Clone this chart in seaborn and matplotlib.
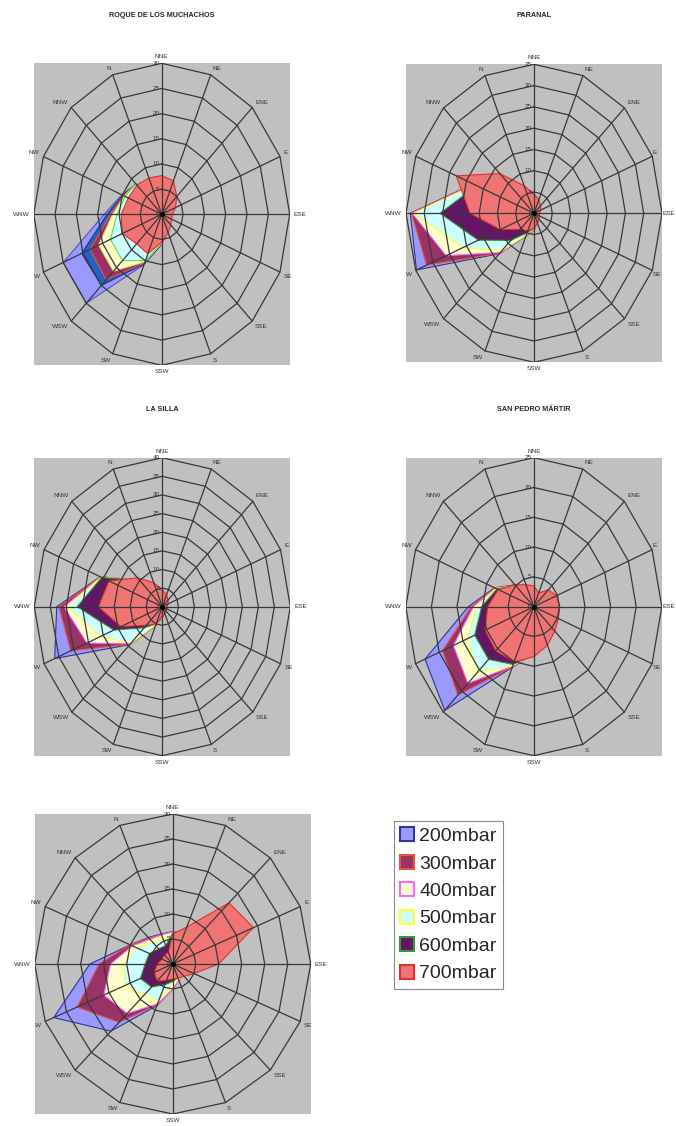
import numpy as np
import seaborn as sns
import matplotlib.pyplot as plt
from matplotlib.patches import Patch

# wind direction sectors, clockwise starting at the top of each radar
directions = ["NNE", "NE", "ENE", "E", "ESE", "SE", "SSE", "S",
              "SSW", "SW", "WSW", "W", "WNW", "NW", "NNW", "N"]
levels = ["200mbar", "300mbar", "400mbar", "500mbar", "600mbar", "700mbar"]

# frequency (%) per direction, one row per pressure level (200 -> 700)
roque = [
    [6.5, 6, 4, 3, 2, 2, 2.5, 3.5, 6.0, 10.8, 25.0, 25.0, 13.5, 10.1, 8.5, 7],
    [6.5, 6, 4, 3, 2, 2, 2.5, 3.5, 5.9, 10.6, 20.0, 20.3, 12.8, 9.9, 8.5, 7],
    [6.5, 6, 4, 3, 2, 2, 2.5, 3.5, 5.8, 10.4, 18.4, 18.2, 12.0, 9.7, 8.5, 7],
    [6.5, 6, 4, 3, 2, 2, 2.5, 3.5, 5.7, 10.2, 16.0, 16.0, 11.5, 9.5, 8.5, 7],
    [6.5, 6, 4, 3, 2, 2, 2.5, 3.5, 5.6, 10.0, 13.0, 13.0, 10.5, 9.3, 8.5, 7],
    [7.7, 7.2, 5.0, 3.5, 2.5, 2.5, 3.0, 4.0, 5.5, 8.5, 8.3, 10.0, 9.5, 8.5, 8.2, 7.8],
]
paranal = [
    [4, 3, 2, 1.5, 1.5, 1.5, 2, 2.5, 3.9, 5.8, 13.4, 34.8, 33.8, 18.0, 12, 6],
    [4, 3, 2, 1.5, 1.5, 1.5, 2, 2.5, 3.8, 5.7, 13.2, 31.8, 33.5, 17.9, 12, 6],
    [4, 3, 2, 1.5, 1.5, 1.5, 2, 2.5, 3.7, 5.6, 13.0, 26.0, 33.3, 17.7, 12, 6],
    [4, 3, 2, 1.5, 1.5, 1.5, 2, 2.5, 3.6, 5.5, 12.5, 21.0, 33.0, 17.5, 12, 6],
    [4, 3, 2, 1.5, 1.5, 1.5, 2, 2.5, 3.5, 5.0, 9.0, 16.5, 25.7, 17.0, 12, 6],
    [4.5, 3.5, 2.5, 2, 1.5, 1.5, 2, 2.5, 3.5, 4.5, 5.3, 10.0, 17.5, 23.0, 13.2, 7],
]
la_silla = [
    [4, 3, 2, 1.5, 1.5, 1.5, 1.5, 2, 2.9, 5.5, 14.4, 36.4, 33.0, 21.0, 10, 6],
    [4, 3, 2, 1.5, 1.5, 1.5, 1.5, 2, 2.8, 5.4, 14.2, 31.0, 32.3, 20.9, 10, 6],
    [4, 3, 2, 1.5, 1.5, 1.5, 1.5, 2, 2.7, 5.3, 14.0, 25.5, 30.7, 20.8, 10, 6],
    [4, 3, 2, 1.5, 1.5, 1.5, 1.5, 2, 2.6, 5.2, 13.8, 21.0, 29.7, 20.7, 10, 6],
    [4, 3, 2, 1.5, 1.5, 1.5, 1.5, 2, 2.5, 5.0, 8.0, 16.4, 26.6, 20.5, 10, 6],
    [4.5, 3.5, 2.5, 2, 1.5, 1.5, 1.5, 2, 2.5, 5.0, 7.0, 14.0, 20.0, 18.0, 11, 7],
]
san_pedro = [
    [3, 2, 3.5, 4, 4.5, 4.5, 5, 6.5, 8, 11.0, 24.6, 23.0, 12.8, 8.3, 5.2, 3.7],
    [3, 2, 3.5, 4, 4.5, 4.5, 5, 6.5, 8, 10.9, 21.0, 19.3, 12.2, 8.2, 5.1, 3.6],
    [3, 2, 3.5, 4, 4.5, 4.5, 5, 6.5, 8, 10.8, 18.2, 17.0, 11.8, 8.1, 5.0, 3.5],
    [3, 2, 3.5, 4, 4.5, 4.5, 5, 6.5, 8, 10.7, 15.5, 14.0, 11.2, 8.0, 5.0, 3.5],
    [3, 2, 3.5, 4, 4.5, 4.5, 5, 6.5, 8, 10.5, 12.5, 12.5, 10.2, 7.8, 5.0, 3.5],
    [3.5, 2.5, 4, 4.8, 5.1, 5.2, 5.8, 7, 8.4, 10.0, 10.5, 10.3, 9.0, 7.5, 5.2, 4],
]
site5 = [
    [6.5, 7, 6, 5, 4, 3.5, 3, 3.5, 5.0, 9.0, 19.0, 28.0, 18.0, 10.0, 7.5, 6.5],
    [6.4, 7, 6, 5, 4, 3.5, 3, 3.5, 5.0, 8.8, 16.5, 22.5, 16.0, 10.0, 7.3, 6.4],
    [6.4, 7, 6, 5, 4, 3.5, 3, 3.5, 5.0, 8.6, 14.0, 16.2, 13.5, 9.5, 7.0, 6.3],
    [6.2, 7, 6, 5, 4, 3.5, 3, 3.3, 3.9, 7.8, 8.8, 11.2, 10.6, 8.6, 6.0, 5.3],
    [6.2, 7, 6, 5, 4, 3.5, 3, 3.0, 3.5, 4.5, 6.5, 7.6, 6.0, 5.5, 4.3, 4.0],
    [6.0, 8, 17.3, 19, 10, 5, 3.5, 3, 3, 3.5, 4.8, 4.3, 3.3, 2.5, 2.5, 2.5],
]

# (face, edge) per level
level_colors = [("#9999FF", "#333399"), ("#993366", "#E8553A"),
                ("#FFFFCC", "#FF66FF"), ("#CCFFFF", "#FFFF33"),
                ("#661466", "#339933"), ("#F07474", "#E03030")]
roque_colors = [("#9999FF", "#5555BB"), ("#2262C8", "#1A3A8A"),
                ("#993366", "#E8553A"), ("#FFFFCC", "#DDDD66"),
                ("#CCFFFF", "#55DD55"), ("#F07474", "#E03030")]

sns.set_style("white")
plt.rcParams["font.family"] = ["Liberation Sans", "DejaVu Sans"]

W, H = 676, 1126
fig = plt.figure(figsize=(W / 100, H / 100), dpi=100)
theta = np.arange(len(directions)) * 2 * np.pi / len(directions)
grid_col = "#383838"


def radar(cx, cy, rx, ry, data, rmax, colors, title=None):
    """Draws one Excel-like filled radar centred at pixel (cx, cy)."""
    ax = fig.add_axes([(cx - rx) / W, 1 - (cy + ry) / H, 2 * rx / W, 2 * ry / H])
    ax.set_facecolor("#C0C0C0")
    for vals, (fc, ec) in zip(data, colors):
        r = np.array(vals)
        ax.fill(r * np.sin(theta), r * np.cos(theta), facecolor=fc,
                edgecolor=ec, lw=0.8, zorder=2)
    for ring in range(5, rmax + 1, 5):
        t = np.append(theta, 0)
        ax.plot(ring * np.sin(t), ring * np.cos(t), color=grid_col, lw=0.9, zorder=3)
    for t in theta:
        ax.plot([0, rmax * np.sin(t)], [0, rmax * np.cos(t)], color=grid_col,
                lw=0.9, zorder=3)
    for ring in range(0, rmax + 1, 5):
        ax.annotate(str(ring), (0, ring), xytext=(-1.5, 0), textcoords="offset points",
                    ha="right", va="center", fontsize=4.6, color="#333333", zorder=4)
    # keep the right-hand labels inside the page
    room = (W - (cx + rx)) > 18
    for lab, t in zip(directions, theta):
        s, c = np.sin(t), np.cos(t)
        ha = "center" if abs(s) < 0.3 else ("left" if s > 0 else "right")
        va = "center" if abs(c) < 0.3 else ("bottom" if c > 0 else "top")
        off = 3 if (room or s < 0.9) else 0.3
        ax.annotate(lab, (rmax * s, rmax * c), xytext=(off * s, 3 * c),
                    textcoords="offset points", ha=ha, va=va, fontsize=4.6,
                    color="#333333", annotation_clip=False)
    ax.plot(0, 0, "o", color="black", ms=2.5, zorder=5)
    ax.set_xlim(-rmax, rmax)
    ax.set_ylim(-rmax, rmax)
    ax.set_xticks([])
    ax.set_yticks([])
    sns.despine(ax=ax, left=True, bottom=True)
    if title:
        fig.text(cx / W, 1 - 15.5 / H if cy < 400 else 1 - 409 / H, title,
                 ha="center", va="center", fontsize=5.2, fontweight="bold")
    return ax


radar(161.7, 214.3, 128, 151, roque, 30, roque_colors, "ROQUE DE LOS MUCHACHOS")
radar(534, 213.3, 128, 149, paranal, 35, level_colors, "PARANAL")
radar(162.3, 606.7, 128, 149, la_silla, 40, level_colors, "LA SILLA")
radar(533.8, 606.7, 128, 149, san_pedro, 25, level_colors, "SAN PEDRO MÁRTIR")
radar(172.7, 964, 138, 150, site5, 30, level_colors)

handles = [Patch(facecolor=fc, edgecolor=ec, lw=1.5, label=lab)
           for lab, (fc, ec) in zip(levels, level_colors)]
leg = fig.legend(handles=handles, loc="upper left",
                 bbox_to_anchor=(394 / W, 1 - 821 / H), borderaxespad=0,
                 fontsize=14, handlelength=0.72, handleheight=0.72,
                 handletextpad=0.25, labelspacing=0.5, borderpad=0.33,
                 fancybox=False, edgecolor="#888888", framealpha=1)
leg.get_frame().set_linewidth(0.8)

fig.savefig("out.png", dpi=100, facecolor="white")
